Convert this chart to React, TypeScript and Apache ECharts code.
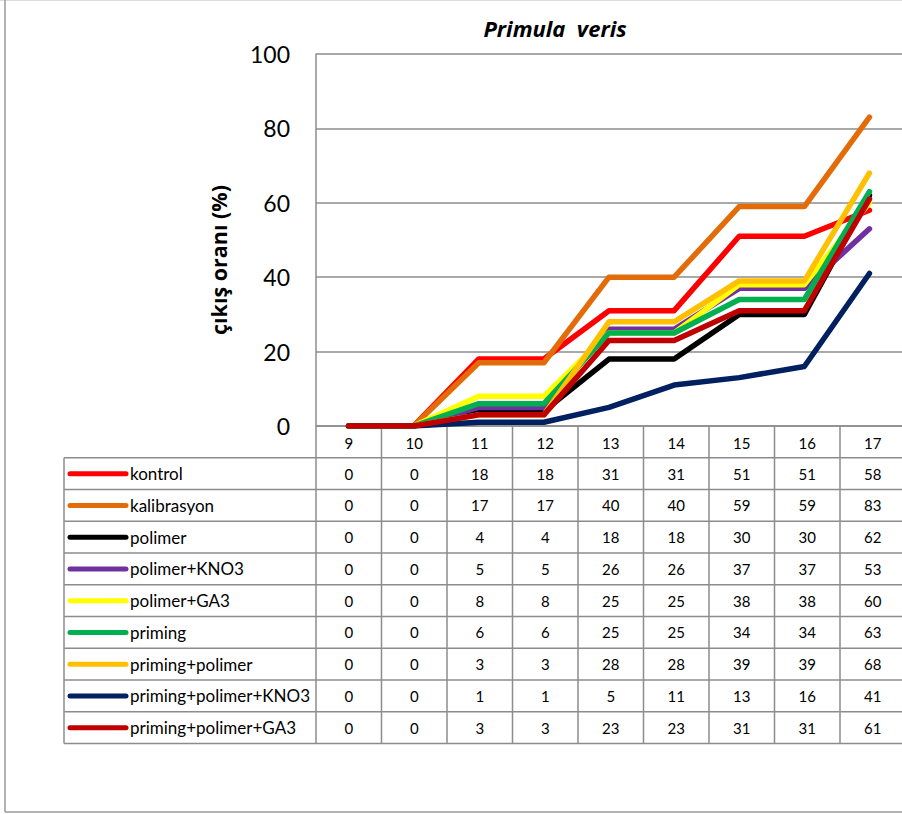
import React, { useEffect, useRef } from 'react';
import * as echarts from 'echarts';

// Days after sowing
const categories = ['9', '10', '11', '12', '13', '14', '15', '16', '17'];

// Emergence rate (%) per treatment
const kontrol = [0, 0, 18, 18, 31, 31, 51, 51, 58];
const kalibrasyon = [0, 0, 17, 17, 40, 40, 59, 59, 83];
const polimer = [0, 0, 4, 4, 18, 18, 30, 30, 62];
const polimerKNO3 = [0, 0, 5, 5, 26, 26, 37, 37, 53];
const polimerGA3 = [0, 0, 8, 8, 25, 25, 38, 38, 60];
const priming = [0, 0, 6, 6, 25, 25, 34, 34, 63];
const primingPolimer = [0, 0, 3, 3, 28, 28, 39, 39, 68];
const primingPolimerKNO3 = [0, 0, 1, 1, 5, 11, 13, 16, 41];
const primingPolimerGA3 = [0, 0, 3, 3, 23, 23, 31, 31, 61];

const seriesNames = [
  'kontrol',
  'kalibrasyon',
  'polimer',
  'polimer+KNO3',
  'polimer+GA3',
  'priming',
  'priming+polimer',
  'priming+polimer+KNO3',
  'priming+polimer+GA3',
];
const seriesValues = [
  kontrol,
  kalibrasyon,
  polimer,
  polimerKNO3,
  polimerGA3,
  priming,
  primingPolimer,
  primingPolimerKNO3,
  primingPolimerGA3,
];
const seriesColors = [
  '#FF0000',
  '#E36C09',
  '#000000',
  '#7030A0',
  '#FFFF00',
  '#00B050',
  '#FFC000',
  '#002060',
  '#C00000',
];

const FONT = 'Lato, "Open Sans", "Liberation Sans", sans-serif';
const TITLE_FONT = '"Open Sans", "Noto Sans", sans-serif';
const GRID_LEFT = 316;
const GRID_TOP = 54;
const GRID_H = 372;
const COL_W = 65.5;
const GRID_W = COL_W * categories.length;
const ROW_H = 31.75;
const TABLE_LEFT = 64;
const RULE = '#8c8c8c';

export default function App() {
  const ref = useRef<HTMLDivElement>(null);

  useEffect(() => {
    const chart = echarts.init(ref.current!, null, { renderer: 'svg' });

    const tableTop = GRID_TOP + GRID_H;
    const headerBottom = tableTop + ROW_H;
    const tableBottom = headerBottom + ROW_H * seriesNames.length;
    const right = GRID_LEFT + GRID_W;
    const g: any[] = [];

    // outer chart frame
    g.push({ type: 'line', shape: { x1: 0, y1: 0.5, x2: 902, y2: 0.5 }, style: { stroke: '#dcdcdc', lineWidth: 1 } });
    g.push({ type: 'line', shape: { x1: 5, y1: 0, x2: 5, y2: 812 }, style: { stroke: '#999', lineWidth: 1.5 } });
    g.push({ type: 'line', shape: { x1: 5, y1: 812, x2: 902, y2: 812 }, style: { stroke: '#999', lineWidth: 1.5 } });

    // chart title
    g.push({
      type: 'text',
      x: 555,
      y: 28,
      style: {
        text: 'Primula  veris',
        align: 'center',
        verticalAlign: 'middle',
        font: `italic bold 22px ${TITLE_FONT}`,
        fill: '#000',
      },
    });

    // y-axis title
    g.push({
      type: 'text',
      x: 218,
      y: 260,
      rotation: Math.PI / 2,
      style: {
        text: 'çıkış oranı (%)',
        align: 'center',
        verticalAlign: 'middle',
        font: `bold 21.5px ${TITLE_FONT}`,
        fill: '#000',
      },
    });

    // data table: horizontal rules
    g.push({ type: 'line', shape: { x1: GRID_LEFT, y1: tableTop, x2: right, y2: tableTop }, style: { stroke: RULE, lineWidth: 1.5 } });
    for (let r = 0; r <= seriesNames.length; r++) {
      const y = headerBottom + r * ROW_H;
      g.push({ type: 'line', shape: { x1: TABLE_LEFT, y1: y, x2: right, y2: y }, style: { stroke: RULE, lineWidth: 1.5 } });
    }
    // data table: vertical rules
    g.push({ type: 'line', shape: { x1: TABLE_LEFT, y1: headerBottom, x2: TABLE_LEFT, y2: tableBottom }, style: { stroke: RULE, lineWidth: 1.5 } });
    for (let c = 0; c <= categories.length; c++) {
      const x = GRID_LEFT + c * COL_W;
      g.push({ type: 'line', shape: { x1: x, y1: tableTop, x2: x, y2: tableBottom }, style: { stroke: RULE, lineWidth: 1.5 } });
    }
    // header row (categories)
    categories.forEach((cat, c) => {
      g.push({
        type: 'text',
        x: GRID_LEFT + (c + 0.5) * COL_W,
        y: tableTop + ROW_H / 2 + 1,
        style: { text: cat, align: 'center', verticalAlign: 'middle', font: `15px ${FONT}`, fill: '#000' },
      });
    });
    // series rows
    seriesNames.forEach((name, r) => {
      const cy = headerBottom + (r + 0.5) * ROW_H;
      g.push({
        type: 'line',
        shape: { x1: 70, y1: cy, x2: 126, y2: cy },
        style: { stroke: seriesColors[r], lineWidth: 5, lineCap: 'round' },
      });
      g.push({
        type: 'text',
        x: 130,
        y: cy,
        style: { text: name, align: 'left', verticalAlign: 'middle', font: `17px ${FONT}`, fill: '#000' },
      });
      seriesValues[r].forEach((v, c) => {
        g.push({
          type: 'text',
          x: GRID_LEFT + (c + 0.5) * COL_W,
          y: cy,
          style: { text: String(v), align: 'center', verticalAlign: 'middle', font: `15px ${FONT}`, fill: '#000' },
        });
      });
    });

    chart.setOption({
      animation: false,
      backgroundColor: '#fff',
      grid: { left: GRID_LEFT, top: GRID_TOP, width: GRID_W, height: GRID_H, containLabel: false },
      xAxis: {
        type: 'category',
        data: categories,
        boundaryGap: true,
        axisLine: { show: false },
        axisTick: { show: false },
        axisLabel: { show: false },
        splitLine: { show: false },
      },
      yAxis: {
        type: 'value',
        min: 0,
        max: 100,
        interval: 20,
        axisLine: { show: true, lineStyle: { color: RULE, width: 1.5 } },
        axisTick: { show: false },
        axisLabel: { color: '#000', fontSize: 23, fontFamily: FONT, margin: 26 },
        splitLine: { show: true, lineStyle: { color: RULE, width: 1.5 } },
      },
      series: seriesNames.map((name, i) => ({
        name,
        type: 'line',
        data: seriesValues[i],
        showSymbol: false,
        symbol: 'none',
        lineStyle: { color: seriesColors[i], width: 5.5, cap: 'round', join: 'round' },
        itemStyle: { color: seriesColors[i] },
        z: 3,
      })),
      graphic: { elements: g },
    });

    return () => chart.dispose();
  }, []);

  return (
    <div
      ref={ref}
      style={{ position: 'absolute', left: 0, top: 0, width: 902, height: 814, overflow: 'hidden' }}
    />
  );
}
